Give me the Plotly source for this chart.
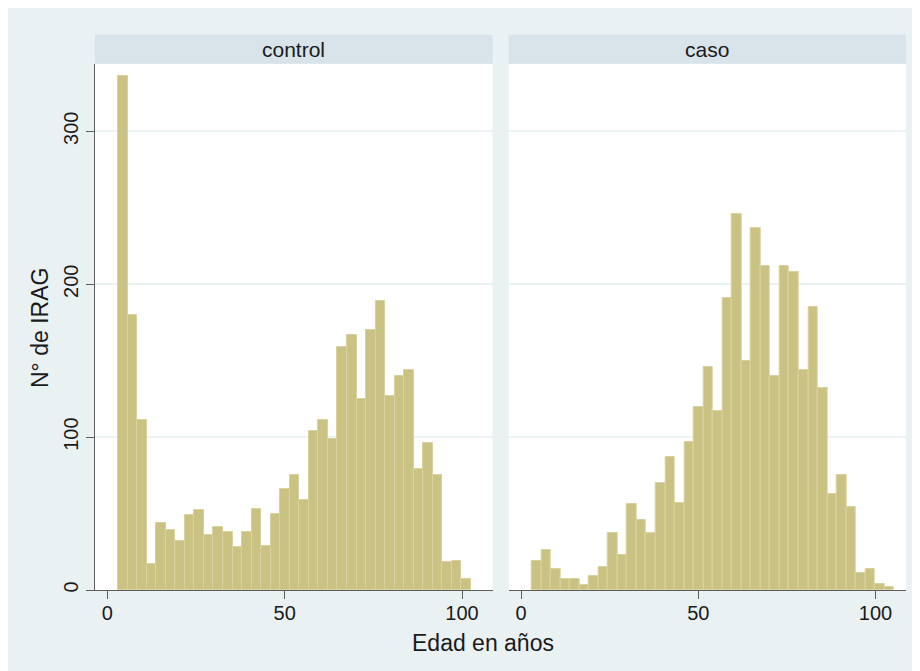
import numpy as np
import plotly.graph_objects as go

# ---- data ----
bin_start = 3.0
bin_width = 2.69
control_counts = [336, 180, 111, 17, 44, 39, 32, 49, 52, 36, 41, 38, 28, 38, 53, 29,
                  50, 66, 75, 59, 104, 111, 99, 159, 167, 125, 170, 189, 127, 140,
                  144, 79, 96, 75, 18, 19, 7, 0]
caso_counts = [19, 26, 14, 7, 7, 3, 9, 15, 37, 23, 56, 46, 37, 70, 87, 57, 97, 120,
               146, 117, 191, 246, 150, 237, 212, 140, 212, 208, 144, 185, 132, 63,
               75, 54, 11, 14, 4, 2]
panel_labels = ["control", "caso"]
x_ticks = [0, 50, 100]
y_ticks = [0, 100, 200, 300]
x_title = "Edad en años"
y_title = "N° de IRAG"

centers = bin_start + bin_width * (np.arange(len(control_counts)) + 0.5)

# ---- styling ----
OFF = 8  # page body margin
W, H = 912, 663
ML, MR, MT, MB = 95 - OFF, 14, 64 - OFF, 81
PW, PH = W - ML - MR, H - MT - MB
BG = "#E9F1F3"
STRIP = "#D8E4EA"
BAR = "#CAC283"
BAR_LINE = "#D9D29E"
AXIS = "#5E5E5E"
GRID = "#EAF2F3"
TXT = "#1A1A1A"
FONT = "Liberation Sans, Arial, sans-serif"


def px2x(p):  # screen pixel -> paper
    return (p - OFF - ML) / PW


def py2y(p):
    return (H - MB - (p - OFF)) / PH


dom_left = [0, px2x(492.5)]
dom_right = [px2x(508.7), 1]

fig = go.Figure()
for i, counts in enumerate([control_counts, caso_counts]):
    line_w = [1 if c > 0 else 0 for c in counts]
    fig.add_trace(go.Bar(
        x=centers, y=counts, width=bin_width,
        marker=dict(color=BAR, line=dict(color=BAR_LINE, width=line_w)),
        xaxis="x" if i == 0 else "x2", yaxis="y" if i == 0 else "y2",
        showlegend=False, hoverinfo="x+y"))

xrange = [-3.5, 108.6]
yrange = [0, 344]
common_x = dict(range=xrange, tickvals=x_ticks, ticks="outside", ticklen=8,
                tickwidth=1.3, tickcolor=AXIS, showline=True, linecolor=AXIS,
                linewidth=1.3, showgrid=False, zeroline=False,
                ticklabelstandoff=-3,
                tickfont=dict(family=FONT, size=20, color=TXT))
fig.update_layout(
    width=W, height=H,
    margin=dict(l=ML, r=MR, t=MT, b=MB),
    paper_bgcolor=BG, plot_bgcolor="white",
    bargap=0,
    xaxis=dict(domain=dom_left, anchor="y", **common_x),
    xaxis2=dict(domain=dom_right, anchor="y2", **common_x),
    yaxis=dict(domain=[0, 1], range=yrange, tickvals=y_ticks, ticks="outside",
               ticklen=8, tickwidth=1.3, tickcolor=AXIS, showline=True,
               linecolor=AXIS, linewidth=1.3, showgrid=True, gridcolor=GRID,
               gridwidth=1.5, zeroline=False, tickangle=-90,
               tickfont=dict(family=FONT, size=20, color=TXT)),
    yaxis2=dict(domain=[0, 1], range=yrange, anchor="x2", tickvals=y_ticks,
                showticklabels=False, ticks="", showline=False, showgrid=True,
                gridcolor=GRID, gridwidth=1.5, zeroline=False),
    font=dict(family=FONT, color=TXT),
)

shapes = []
annotations = []
for dom, lab in zip([dom_left, dom_right], panel_labels):
    shapes.append(dict(type="rect", xref="paper", yref="paper",
                       x0=dom[0], x1=dom[1], y0=py2y(63.7), y1=py2y(34.7),
                       fillcolor=STRIP, line=dict(width=0), layer="above"))
    annotations.append(dict(text=lab, xref="paper", yref="paper",
                            x=(dom[0] + dom[1]) / 2, y=py2y(49), showarrow=False,
                            xanchor="center", yanchor="middle",
                            font=dict(family=FONT, size=21, color=TXT)))

annotations.append(dict(text=x_title, xref="paper", yref="paper",
                        x=px2x(483), y=py2y(643), showarrow=False,
                        xanchor="center", yanchor="middle",
                        font=dict(family=FONT, size=23, color=TXT)))
annotations.append(dict(text=y_title, xref="paper", yref="paper",
                        x=px2x(40), y=py2y(328), showarrow=False, textangle=-90,
                        xanchor="center", yanchor="middle",
                        font=dict(family=FONT, size=23, color=TXT)))
fig.update_layout(shapes=shapes, annotations=annotations)

fig.write_html("out.html")
